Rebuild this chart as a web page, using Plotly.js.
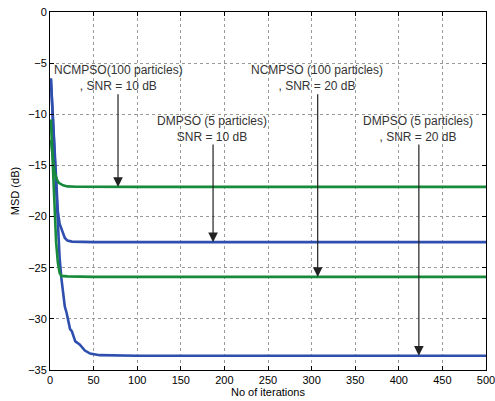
<!DOCTYPE html>
<html>
<head>
<meta charset="utf-8">
<script src="https://cdn.plot.ly/plotly-3.0.1.min.js"></script>
<style>html,body{margin:0;padding:0;background:#fff;}#chart{width:495px;height:401px;}</style>
</head>
<body>
<div id="chart"></div>
<script>
// Iterations and MSD (dB)
const ncmpso10_x = [1, 3, 5, 8, 10, 15, 20, 30, 50, 100, 200, 300, 400, 500];
const ncmpso10_y = [-12.5, -14.0, -15.6, -16.4, -16.7, -16.95, -17.05, -17.08, -17.1, -17.1, -17.1, -17.1, -17.1, -17.1];

const ncmpso20_x = [1, 3, 5, 7, 9, 11, 13, 20, 50, 100, 200, 300, 400, 500];
const ncmpso20_y = [-10.5, -15.0, -19.0, -22.5, -24.5, -25.5, -25.8, -25.85, -25.9, -25.9, -25.9, -25.9, -25.9, -25.9];

const dmpso10_x = [1, 3, 5, 7, 9, 11, 14, 17, 20, 25, 50, 100, 200, 300, 400, 500];
const dmpso10_y = [-6.5, -10.0, -14.0, -17.5, -19.5, -20.7, -21.4, -22.1, -22.35, -22.45, -22.5, -22.5, -22.5, -22.5, -22.5, -22.5];

const dmpso20_x = [1, 3, 5, 7, 9, 11, 13, 17, 19, 23, 25, 29, 34, 40, 46, 57, 100, 200, 300, 400, 500];
const dmpso20_y = [-6.5, -10.0, -14.0, -18.0, -21.0, -24.0, -26.0, -28.8, -29.4, -31.0, -31.2, -32.2, -32.5, -33.1, -33.4, -33.55, -33.6, -33.6, -33.6, -33.6, -33.6];

// Annotation labels and arrow positions (x tip, y tip, y tail)
const labels = [
  "NCMPSO(100 particles)<br>, SNR = 10 dB",
  "DMPSO (5 particles)<br>SNR = 10 dB",
  "NCMPSO (100 particles)<br>, SNR = 20 dB",
  "DMPSO (5 particles)<br>, SNR = 20 dB"
];
const labelX = [78, 186, 306, 422];
const labelY = [-6.5, -11.45, -6.5, -11.45];
const arrowX = [78, 187, 307, 423];
const arrowTipY = [-17.1, -22.5, -25.9, -33.6];
const arrowTailY = [-7.9, -12.8, -7.9, -12.8];

const BLUE = '#2e4fae';
const GREEN = '#178a3c';
const FONT = 'Liberation Sans, Arial, sans-serif';

const traces = [
  {x: dmpso10_x, y: dmpso10_y, mode: 'lines', line: {color: BLUE, width: 2.6}},
  {x: dmpso20_x, y: dmpso20_y, mode: 'lines', line: {color: BLUE, width: 2.6}},
  {x: ncmpso10_x, y: ncmpso10_y, mode: 'lines', line: {color: GREEN, width: 2.6}},
  {x: ncmpso20_x, y: ncmpso20_y, mode: 'lines', line: {color: GREEN, width: 2.6}}
];

const annotations = [];
for (let i = 0; i < labels.length; i++) {
  annotations.push({
    x: labelX[i], y: labelY[i], xref: 'x', yref: 'y',
    text: labels[i], showarrow: false,
    font: {family: FONT, size: 12, color: '#333'},
    align: 'center', yanchor: 'middle', xanchor: 'center'
  });
  annotations.push({
    x: arrowX[i], y: arrowTipY[i], xref: 'x', yref: 'y',
    axref: 'x', ayref: 'y', ax: arrowX[i], ay: arrowTailY[i],
    text: '', showarrow: true, arrowhead: 2, arrowsize: 1.6, arrowwidth: 1.2,
    arrowcolor: '#222', standoff: 0, startstandoff: 0
  });
}

const axisCommon = {
  showline: true, linecolor: '#000', linewidth: 1, mirror: 'ticks',
  ticks: 'inside', ticklen: 4, tickcolor: '#000',
  showgrid: true, gridcolor: '#9a9a9a', griddash: 'dot', gridwidth: 1,
  zeroline: false, ticklabeloverflow: 'allow',
  tickfont: {family: FONT, size: 11, color: '#000'}
};

const layout = {
  width: 495, height: 401,
  margin: {l: 50, r: 9, t: 12, b: 31},
  paper_bgcolor: '#fff', plot_bgcolor: '#fff',
  showlegend: false,
  xaxis: Object.assign({}, axisCommon, {
    range: [0, 500], dtick: 50, tick0: 0,
    title: {text: 'No of iterations', standoff: 2, font: {family: FONT, size: 11, color: '#000'}}
  }),
  yaxis: Object.assign({}, axisCommon, {
    range: [-35, 0], dtick: 5, tick0: 0,
    title: {text: 'MSD (dB)', standoff: 6, font: {family: FONT, size: 11, color: '#000'}}
  }),
  annotations: annotations
};

Plotly.newPlot('chart', traces, layout, {displayModeBar: false, staticPlot: true});
</script>
</body>
</html>
